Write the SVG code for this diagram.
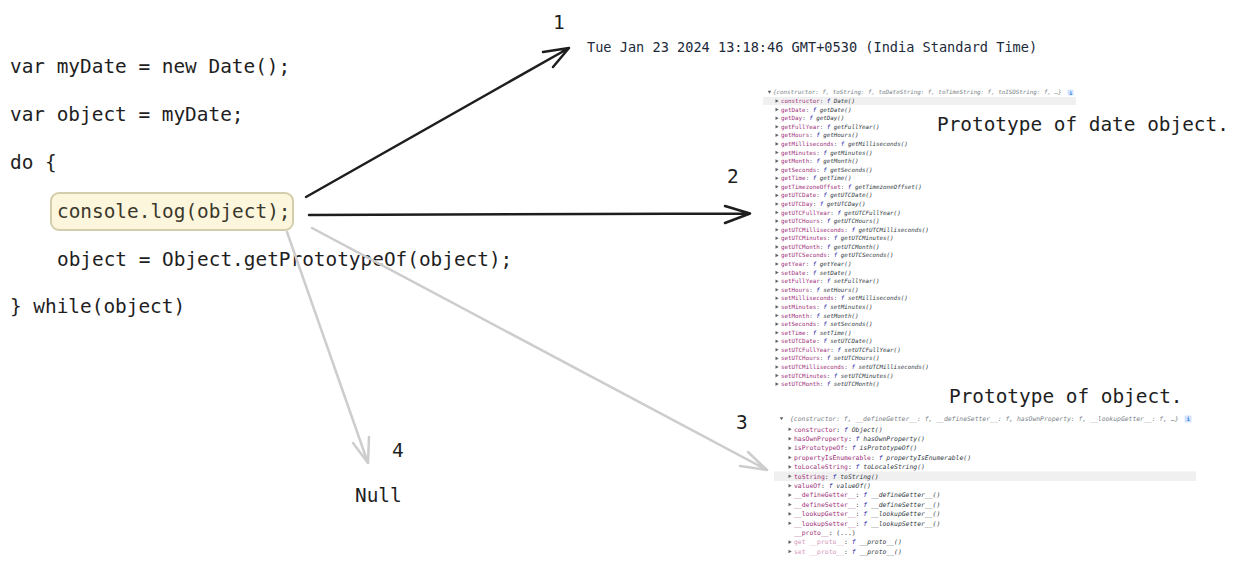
<svg xmlns="http://www.w3.org/2000/svg" xmlns:xlink="http://www.w3.org/1999/xlink" width="1238" height="568" viewBox="0 0 1238 568">
<style>
.code{font-family:"DejaVu Sans Mono","Liberation Mono",monospace;font-size:19.4px;fill:#1e1e1e}
.out{font-family:"DejaVu Sans Mono","Liberation Mono",monospace;font-size:13.6px;fill:#222a3a}
.dt{font-family:"DejaVu Sans Mono","Liberation Mono",monospace;font-size:5.85px}
.ob{font-family:"DejaVu Sans Mono","Liberation Mono",monospace;font-size:6.4px}
.k{fill:#a0307a}
.kl{fill:#d796bd}
.c{fill:#303942}
.f{fill:#1a1aa6;font-style:italic}
.v{fill:#303942;font-style:italic}
.h{fill:#7a7f87;font-style:italic}
.tri{fill:#5f6368}
.hl{fill:#f0f0f0}
.badge{fill:#d2e3fc}
.bi{fill:#1a73e8;font-family:"DejaVu Sans Mono",monospace;font-weight:bold}
.ab{fill:none;stroke:#1e1e1e;stroke-width:2.5;stroke-linecap:round;stroke-linejoin:round}
.ag{fill:none;stroke:#cdcdcd;stroke-width:2.5;stroke-linecap:round;stroke-linejoin:round}
</style>
<defs>
<path id="tr" d="M0,-1.8 L3.2,0 L0,1.8 Z"/>
<path id="td" d="M-1.8,-1.2 L1.8,-1.2 L0,1.8 Z"/>
</defs>
<rect width="1238" height="568" fill="#ffffff"/>

<g id="code">
<text class="code" x="10" y="73">var myDate = new Date();</text>
<text class="code" x="10" y="121">var object = myDate;</text>
<text class="code" x="10" y="168.5">do {</text>
<text class="code" x="57" y="266">object = Object.getPrototypeOf(object);</text>
<text class="code" x="10" y="313">} while(object)</text>
</g>

<g id="console-log">
<rect x="51" y="193" width="242" height="37" rx="8" fill="#fcf6dd" stroke="#d3cdab" stroke-width="2"/>
<text class="code" x="57" y="218" style="fill:#3b382c">console.log(object);</text>
</g>

<g id="connectors">
<path class="ab" d="M306,197 L569,48 M543,52 L569,48 L553,67"/>
<path class="ab" d="M309,215 L750,213.5 M725,206 L750,213.5 L725,223"/>
<path class="ag" d="M312,228 L767,470 M748,452 L767,470 L740,466"/>
<path class="ag" d="M287,232 L368,463 M353,443 L368,463 L369,437"/>
</g>

<g id="labels">
<text class="code" x="553" y="29">1</text>
<text class="code" x="727" y="183">2</text>
<text class="code" x="736" y="429">3</text>
<text class="code" x="392" y="457">4</text>
<text class="code" x="355" y="502">Null</text>
<text class="code" x="937" y="131">Prototype of date object.</text>
<text class="code" x="949" y="403">Prototype of object.</text>
</g>

<g id="date-output">
<text class="out" x="587" y="52">Tue Jan 23 2024 13:18:46 GMT+0530 (India Standard Time)</text>
</g>

<g id="date-prototype">
<rect class="hl" x="763" y="97" width="313" height="8"/>
<use xlink:href="#td" x="769.5" y="92" class="tri"/>
<text class="dt h" x="773" y="94">{constructor: f, toString: f, toDateString: f, toTimeString: f, toISOString: f, …}</text>
<rect class="badge" x="1067.5" y="89.5" width="6" height="6" rx="1"/>
<text class="bi" x="1069.2" y="94.5" font-size="5">i</text>
<g class="tri">
<use xlink:href="#tr" x="775.5" y="101"/><use xlink:href="#tr" x="775.5" y="109.6"/><use xlink:href="#tr" x="775.5" y="118.2"/><use xlink:href="#tr" x="775.5" y="126.7"/><use xlink:href="#tr" x="775.5" y="135.3"/><use xlink:href="#tr" x="775.5" y="143.9"/><use xlink:href="#tr" x="775.5" y="152.5"/><use xlink:href="#tr" x="775.5" y="161.1"/><use xlink:href="#tr" x="775.5" y="169.6"/><use xlink:href="#tr" x="775.5" y="178.2"/><use xlink:href="#tr" x="775.5" y="186.8"/><use xlink:href="#tr" x="775.5" y="195.4"/><use xlink:href="#tr" x="775.5" y="204"/><use xlink:href="#tr" x="775.5" y="212.5"/><use xlink:href="#tr" x="775.5" y="221.1"/><use xlink:href="#tr" x="775.5" y="229.7"/><use xlink:href="#tr" x="775.5" y="238.3"/><use xlink:href="#tr" x="775.5" y="246.9"/><use xlink:href="#tr" x="775.5" y="255.4"/><use xlink:href="#tr" x="775.5" y="264"/><use xlink:href="#tr" x="775.5" y="272.6"/><use xlink:href="#tr" x="775.5" y="281.2"/><use xlink:href="#tr" x="775.5" y="289.8"/><use xlink:href="#tr" x="775.5" y="298.3"/><use xlink:href="#tr" x="775.5" y="306.9"/><use xlink:href="#tr" x="775.5" y="315.5"/><use xlink:href="#tr" x="775.5" y="324.1"/><use xlink:href="#tr" x="775.5" y="332.7"/><use xlink:href="#tr" x="775.5" y="341.2"/><use xlink:href="#tr" x="775.5" y="349.8"/><use xlink:href="#tr" x="775.5" y="358.4"/><use xlink:href="#tr" x="775.5" y="367"/><use xlink:href="#tr" x="775.5" y="375.6"/><use xlink:href="#tr" x="775.5" y="384.1"/>
</g>
<g class="dt">
<text x="781" y="103"><tspan class="k">constructor</tspan><tspan class="c">: </tspan><tspan class="f">f </tspan><tspan class="v">Date()</tspan></text>
<text x="781" y="111.6"><tspan class="k">getDate</tspan><tspan class="c">: </tspan><tspan class="f">f </tspan><tspan class="v">getDate()</tspan></text>
<text x="781" y="120.2"><tspan class="k">getDay</tspan><tspan class="c">: </tspan><tspan class="f">f </tspan><tspan class="v">getDay()</tspan></text>
<text x="781" y="128.7"><tspan class="k">getFullYear</tspan><tspan class="c">: </tspan><tspan class="f">f </tspan><tspan class="v">getFullYear()</tspan></text>
<text x="781" y="137.3"><tspan class="k">getHours</tspan><tspan class="c">: </tspan><tspan class="f">f </tspan><tspan class="v">getHours()</tspan></text>
<text x="781" y="145.9"><tspan class="k">getMilliseconds</tspan><tspan class="c">: </tspan><tspan class="f">f </tspan><tspan class="v">getMilliseconds()</tspan></text>
<text x="781" y="154.5"><tspan class="k">getMinutes</tspan><tspan class="c">: </tspan><tspan class="f">f </tspan><tspan class="v">getMinutes()</tspan></text>
<text x="781" y="163.1"><tspan class="k">getMonth</tspan><tspan class="c">: </tspan><tspan class="f">f </tspan><tspan class="v">getMonth()</tspan></text>
<text x="781" y="171.6"><tspan class="k">getSeconds</tspan><tspan class="c">: </tspan><tspan class="f">f </tspan><tspan class="v">getSeconds()</tspan></text>
<text x="781" y="180.2"><tspan class="k">getTime</tspan><tspan class="c">: </tspan><tspan class="f">f </tspan><tspan class="v">getTime()</tspan></text>
<text x="781" y="188.8"><tspan class="k">getTimezoneOffset</tspan><tspan class="c">: </tspan><tspan class="f">f </tspan><tspan class="v">getTimezoneOffset()</tspan></text>
<text x="781" y="197.4"><tspan class="k">getUTCDate</tspan><tspan class="c">: </tspan><tspan class="f">f </tspan><tspan class="v">getUTCDate()</tspan></text>
<text x="781" y="206"><tspan class="k">getUTCDay</tspan><tspan class="c">: </tspan><tspan class="f">f </tspan><tspan class="v">getUTCDay()</tspan></text>
<text x="781" y="214.5"><tspan class="k">getUTCFullYear</tspan><tspan class="c">: </tspan><tspan class="f">f </tspan><tspan class="v">getUTCFullYear()</tspan></text>
<text x="781" y="223.1"><tspan class="k">getUTCHours</tspan><tspan class="c">: </tspan><tspan class="f">f </tspan><tspan class="v">getUTCHours()</tspan></text>
<text x="781" y="231.7"><tspan class="k">getUTCMilliseconds</tspan><tspan class="c">: </tspan><tspan class="f">f </tspan><tspan class="v">getUTCMilliseconds()</tspan></text>
<text x="781" y="240.3"><tspan class="k">getUTCMinutes</tspan><tspan class="c">: </tspan><tspan class="f">f </tspan><tspan class="v">getUTCMinutes()</tspan></text>
<text x="781" y="248.9"><tspan class="k">getUTCMonth</tspan><tspan class="c">: </tspan><tspan class="f">f </tspan><tspan class="v">getUTCMonth()</tspan></text>
<text x="781" y="257.4"><tspan class="k">getUTCSeconds</tspan><tspan class="c">: </tspan><tspan class="f">f </tspan><tspan class="v">getUTCSeconds()</tspan></text>
<text x="781" y="266"><tspan class="k">getYear</tspan><tspan class="c">: </tspan><tspan class="f">f </tspan><tspan class="v">getYear()</tspan></text>
<text x="781" y="274.6"><tspan class="k">setDate</tspan><tspan class="c">: </tspan><tspan class="f">f </tspan><tspan class="v">setDate()</tspan></text>
<text x="781" y="283.2"><tspan class="k">setFullYear</tspan><tspan class="c">: </tspan><tspan class="f">f </tspan><tspan class="v">setFullYear()</tspan></text>
<text x="781" y="291.8"><tspan class="k">setHours</tspan><tspan class="c">: </tspan><tspan class="f">f </tspan><tspan class="v">setHours()</tspan></text>
<text x="781" y="300.3"><tspan class="k">setMilliseconds</tspan><tspan class="c">: </tspan><tspan class="f">f </tspan><tspan class="v">setMilliseconds()</tspan></text>
<text x="781" y="308.9"><tspan class="k">setMinutes</tspan><tspan class="c">: </tspan><tspan class="f">f </tspan><tspan class="v">setMinutes()</tspan></text>
<text x="781" y="317.5"><tspan class="k">setMonth</tspan><tspan class="c">: </tspan><tspan class="f">f </tspan><tspan class="v">setMonth()</tspan></text>
<text x="781" y="326.1"><tspan class="k">setSeconds</tspan><tspan class="c">: </tspan><tspan class="f">f </tspan><tspan class="v">setSeconds()</tspan></text>
<text x="781" y="334.7"><tspan class="k">setTime</tspan><tspan class="c">: </tspan><tspan class="f">f </tspan><tspan class="v">setTime()</tspan></text>
<text x="781" y="343.2"><tspan class="k">setUTCDate</tspan><tspan class="c">: </tspan><tspan class="f">f </tspan><tspan class="v">setUTCDate()</tspan></text>
<text x="781" y="351.8"><tspan class="k">setUTCFullYear</tspan><tspan class="c">: </tspan><tspan class="f">f </tspan><tspan class="v">setUTCFullYear()</tspan></text>
<text x="781" y="360.4"><tspan class="k">setUTCHours</tspan><tspan class="c">: </tspan><tspan class="f">f </tspan><tspan class="v">setUTCHours()</tspan></text>
<text x="781" y="369"><tspan class="k">setUTCMilliseconds</tspan><tspan class="c">: </tspan><tspan class="f">f </tspan><tspan class="v">setUTCMilliseconds()</tspan></text>
<text x="781" y="377.6"><tspan class="k">setUTCMinutes</tspan><tspan class="c">: </tspan><tspan class="f">f </tspan><tspan class="v">setUTCMinutes()</tspan></text>
<text x="781" y="386.1"><tspan class="k">setUTCMonth</tspan><tspan class="c">: </tspan><tspan class="f">f </tspan><tspan class="v">setUTCMonth()</tspan></text>
</g>
</g>

<g id="object-prototype">
<rect class="hl" x="774" y="471.5" width="422" height="9.5"/>
<use xlink:href="#td" x="781.5" y="418.5" class="tri"/>
<text class="ob h" x="790" y="421">{constructor: f, __defineGetter__: f, __defineSetter__: f, hasOwnProperty: f, __lookupGetter__: f, …}</text>
<rect class="badge" x="1184.5" y="415.5" width="7" height="7" rx="1"/>
<text class="bi" x="1186.5" y="421.3" font-size="5.5">i</text>
<g class="tri">
<use xlink:href="#tr" x="788.5" y="429.3"/><use xlink:href="#tr" x="788.5" y="438.7"/><use xlink:href="#tr" x="788.5" y="448.1"/><use xlink:href="#tr" x="788.5" y="457.5"/><use xlink:href="#tr" x="788.5" y="466.9"/><use xlink:href="#tr" x="788.5" y="476.3"/><use xlink:href="#tr" x="788.5" y="485.7"/><use xlink:href="#tr" x="788.5" y="495.1"/><use xlink:href="#tr" x="788.5" y="504.5"/><use xlink:href="#tr" x="788.5" y="513.9"/><use xlink:href="#tr" x="788.5" y="523.3"/><use xlink:href="#tr" x="788.5" y="542.1"/><use xlink:href="#tr" x="788.5" y="551.5"/>
</g>
<g class="ob">
<text x="794" y="431.6"><tspan class="k">constructor</tspan><tspan class="c">: </tspan><tspan class="f">f </tspan><tspan class="v">Object()</tspan></text>
<text x="794" y="441"><tspan class="k">hasOwnProperty</tspan><tspan class="c">: </tspan><tspan class="f">f </tspan><tspan class="v">hasOwnProperty()</tspan></text>
<text x="794" y="450.4"><tspan class="k">isPrototypeOf</tspan><tspan class="c">: </tspan><tspan class="f">f </tspan><tspan class="v">isPrototypeOf()</tspan></text>
<text x="794" y="459.8"><tspan class="k">propertyIsEnumerable</tspan><tspan class="c">: </tspan><tspan class="f">f </tspan><tspan class="v">propertyIsEnumerable()</tspan></text>
<text x="794" y="469.2"><tspan class="k">toLocaleString</tspan><tspan class="c">: </tspan><tspan class="f">f </tspan><tspan class="v">toLocaleString()</tspan></text>
<text x="794" y="478.6"><tspan class="k">toString</tspan><tspan class="c">: </tspan><tspan class="f">f </tspan><tspan class="v">toString()</tspan></text>
<text x="794" y="488"><tspan class="k">valueOf</tspan><tspan class="c">: </tspan><tspan class="f">f </tspan><tspan class="v">valueOf()</tspan></text>
<text x="794" y="497.4"><tspan class="k">__defineGetter__</tspan><tspan class="c">: </tspan><tspan class="f">f </tspan><tspan class="v">__defineGetter__()</tspan></text>
<text x="794" y="506.8"><tspan class="k">__defineSetter__</tspan><tspan class="c">: </tspan><tspan class="f">f </tspan><tspan class="v">__defineSetter__()</tspan></text>
<text x="794" y="516.2"><tspan class="k">__lookupGetter__</tspan><tspan class="c">: </tspan><tspan class="f">f </tspan><tspan class="v">__lookupGetter__()</tspan></text>
<text x="794" y="525.6"><tspan class="k">__lookupSetter__</tspan><tspan class="c">: </tspan><tspan class="f">f </tspan><tspan class="v">__lookupSetter__()</tspan></text>
<text x="794" y="535"><tspan class="k">__proto__</tspan><tspan class="c">: (...)</tspan></text>
<text x="794" y="544.4"><tspan class="kl">get __proto__</tspan><tspan class="c">: </tspan><tspan class="f">f </tspan><tspan class="v">__proto__()</tspan></text>
<text x="794" y="553.8"><tspan class="kl">set __proto__</tspan><tspan class="c">: </tspan><tspan class="f">f </tspan><tspan class="v">__proto__()</tspan></text>
</g>
</g>
</svg>
